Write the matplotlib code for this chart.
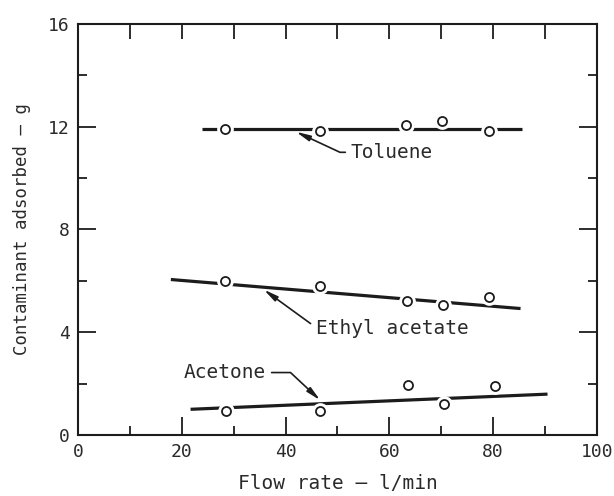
import matplotlib
matplotlib.use("Agg")
import matplotlib.pyplot as plt
from matplotlib.ticker import MultipleLocator

# measured adsorption vs. flow rate
flow_toluene = [28.4, 46.7, 63.2, 70.2, 79.3]
ads_toluene = [11.91, 11.82, 12.07, 12.23, 11.82]
flow_ethyl = [28.4, 46.7, 63.5, 70.3, 79.3]
ads_ethyl = [5.99, 5.79, 5.23, 5.04, 5.38]
flow_acetone = [28.5, 46.7, 63.7, 70.5, 80.3]
ads_acetone = [0.94, 0.95, 1.95, 1.20, 1.89]

# fitted lines (end points)
fit_toluene_x = [24.0, 85.5]
fit_toluene_y = [11.9, 11.9]
fit_ethyl_x = [17.9, 85.3]
fit_ethyl_y = [6.05, 4.92]
fit_acetone_x = [21.7, 90.5]
fit_acetone_y = [1.0, 1.59]

ink = "#1c1c1c"
txt = "#2a2a2a"
plt.rcParams["font.family"] = "DejaVu Sans Mono"

fig = plt.figure(figsize=(6.14, 4.96), dpi=100)
ax = fig.add_axes([0.127, 0.123, 0.845, 0.829])

for fx, fy, px, py in [(fit_toluene_x, fit_toluene_y, flow_toluene, ads_toluene),
                       (fit_ethyl_x, fit_ethyl_y, flow_ethyl, ads_ethyl),
                       (fit_acetone_x, fit_acetone_y, flow_acetone, ads_acetone)]:
    ax.plot(fx, fy, color=ink, lw=2.3, solid_capstyle="butt", zorder=2)
    # white halo breaks the line round each point
    ax.plot(px, py, "o", ms=11, mfc="white", mec="white", zorder=3)
    ax.plot(px, py, "o", ms=6.5, mfc="white", mec=ink, mew=1.3, zorder=4)

ax.set_xlim(0, 100)
ax.set_ylim(0, 16)
ax.xaxis.set_major_locator(MultipleLocator(20))
ax.xaxis.set_minor_locator(MultipleLocator(10))
ax.yaxis.set_major_locator(MultipleLocator(4))
ax.yaxis.set_minor_locator(MultipleLocator(2))
ax.tick_params(which="both", direction="in", top=False, right=True,
               color=ink, width=1.3, labelcolor=txt, labelsize=13)
ax.tick_params(which="major", length=13, pad=6)
ax.tick_params(which="minor", length=6.5)
for s in ax.spines.values():
    s.set_linewidth(1.5)
    s.set_color(ink)

# top edge: evenly spaced ticks every 10
top = ax.secondary_xaxis("top")
top.set_xticks(range(10, 100, 10))
top.tick_params(direction="in", length=11, width=1.3, color=ink, labeltop=False)
top.spines["top"].set_visible(False)

ax.set_xlabel("Flow rate — l/min", fontsize=14, color=txt, labelpad=9)
ax.set_ylabel("Contaminant adsorbed — g", fontsize=12.5, color=txt, labelpad=12)

arrow = dict(arrowstyle="-|>,head_length=0.6,head_width=0.12", color=ink, lw=1.2,
             shrinkA=2, shrinkB=0)
ax.annotate("Toluene", xy=(42.0, 11.8), xytext=(52.6, 11.0), fontsize=14, color=txt,
            va="center", ha="left",
            arrowprops=dict(arrow, connectionstyle="angle,angleA=0,angleB=-25,rad=0",
                            relpos=(0, 0.5)))
ax.annotate("Ethyl acetate", xy=(35.8, 5.66), xytext=(45.8, 4.13), fontsize=14, color=txt,
            va="center", ha="left",
            arrowprops=dict(arrow, connectionstyle="angle,angleA=0,angleB=-36,rad=0",
                            relpos=(0, 0.5)))
ax.annotate("Acetone", xy=(46.7, 1.35), xytext=(20.4, 2.43), fontsize=14, color=txt,
            va="center", ha="left",
            arrowprops=dict(arrow, connectionstyle="angle,angleA=0,angleB=137,rad=0",
                            relpos=(1, 0.5)))

fig.savefig("out.png", dpi=100)
